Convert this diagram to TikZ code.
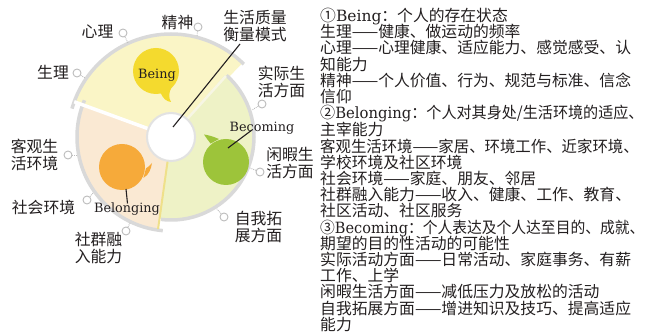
\documentclass[tikz,border=0pt]{standalone}
\usepackage{graphicx}
\usepackage{fontspec}
\newfontfamily\cjk{Noto Sans CJK SC}
\newfontfamily\latserif{DejaVu Serif}
\newcommand\engw[1]{\smash{\latserif\fontsize{15.5}{16.2}\selectfont #1}}
\newcommand\squeeze[2]{\scalebox{#1}[1]{#2}}
\definecolor{beingfill}{HTML}{FAF5C6}
\definecolor{belfill}{HTML}{FAE9D3}
\definecolor{becfill}{HTML}{EEF2C6}
\definecolor{beingbub}{HTML}{F4DA2E}
\definecolor{belbub}{HTML}{F6AA3A}
\definecolor{becbub}{HTML}{9DC43A}
\definecolor{rimgray}{HTML}{D9D9D9}
\definecolor{pingray}{HTML}{BDBDBD}
\definecolor{innergray}{HTML}{E2E2E2}
\definecolor{sepA}{HTML}{F7F6E4}
\definecolor{sepB}{HTML}{EFE08A}
\definecolor{ink}{HTML}{231F20}
\begin{document}
\begin{tikzpicture}[x=1pt,y=1pt,
  lbl/.style={font=\cjk\fontsize{15.8}{17}\selectfont, text=ink, inner sep=0pt, align=center},
  eng/.style={font=\latserif\fontsize{12.8}{14}\selectfont, text=ink, inner sep=0pt, anchor=base},
  pin/.style={circle, draw=pingray, fill=white, line width=0.9pt, minimum size=8pt, inner sep=0pt},
  pinline/.style={draw=pingray, line width=0.9pt, densely dotted},
  ray/.style={draw=ink, line width=1.1pt},
  rim/.style={draw=rimgray, line width=3.5pt},
  bubble/.style={circle, minimum size=46pt, inner sep=0pt},
]
\useasboundingbox[fill=white] (0,0) rectangle (646,-336);
\coordinate (C) at (171,-137);
% sectors
\fill[beingfill] (C) -- ++(46:102) arc[start angle=46,end angle=160,radius=102] -- cycle;
\fill[belfill] (C) -- ++(160:93) arc[start angle=160,end angle=262,radius=93] -- cycle;
\fill[becfill] (C) -- ++(262:82) arc[start angle=262,end angle=409,radius=82] -- cycle;
% rims
\draw[rim] (C) ++(45:103) arc[start angle=45,end angle=164,radius=103];
\draw[rim] (C) ++(157:94) arc[start angle=157,end angle=265,radius=94];
\draw[rim] (C) ++(263:83) arc[start angle=263,end angle=408,radius=83];
% separators
\draw[white, line width=3.5pt] (C) -- ++(160:103);
\draw[sepA, line width=2.5pt] (C) -- ++(48:82);
\draw[sepB, line width=2pt] (C) -- ++(262:93);
% hub
\node[circle, draw=innergray, fill=white, line width=2pt, minimum size=48pt, inner sep=0pt] (hub) at (C) {};
% bubbles
\node[bubble, fill=beingbub] (being) at (156,-71) {};
\fill[beingbub] (160.7,-93) .. controls (163,-99) and (167,-101.5) .. (171,-102) .. controls (168.5,-98) and (168.5,-92) .. (171.9,-86.9) -- cycle;
\node[bubble, fill=belbub] (belonging) at (122,-167) {};
\fill[belbub] (143.4,-177.9) .. controls (149,-175) and (151,-169) .. (152,-163) .. controls (149.5,-166) and (147.5,-167.5) .. (146,-168.3) -- cycle;
\node[bubble, fill=becbub] (becoming) at (226,-162) {};
\fill[becbub] (219,-139) .. controls (213,-136.5) and (208,-135) .. (204,-134.5) .. controls (206.5,-137.5) and (208,-141) .. (210.6,-143.6) -- cycle;
% english labels
\node[eng] (tbeing) at (157,-78.5) {Being};
\node[eng] (tbelonging) at (127,-213) {Belonging};
\node[eng] (tbecoming) at (262,-132) {Becoming};
% pointer lines
\coordinate (hubEnd) at (173,-127);
\coordinate (titleEnd) at (240,-44);
\draw[ray] (hubEnd) -- (titleEnd);
\coordinate (becIn) at (228,-148);
\coordinate (becOut) at (252,-130);
\draw[ray] (becIn) -- (becOut);
\coordinate (belIn) at (126,-189);
\coordinate (belOut) at (127.5,-203.5);
\draw[ray] (belIn) -- (belOut);
% outer labels
\node[lbl] (title) at (255,-26.5) {生活质量\\衡量模式};
\node[lbl] (xinli) at (97.5,-32) {心理};
\node[lbl] (jingshen) at (177.5,-22) {精神};
\node[lbl] (shengli) at (53,-72) {生理};
\node[lbl] (shiji) at (281.5,-81.5) {实际生\\活方面};
\node[lbl] (keguan) at (34.5,-155) {客观生\\活环境};
\node[lbl] (xianxia) at (290,-163.5) {闲暇生\\活方面};
\node[lbl] (shehui) at (43.5,-207) {社会环境};
\node[lbl] (ziwo) at (258.5,-226.5) {自我拓\\展方面};
\node[lbl] (shequn) at (98.5,-248.5) {社群融\\入能力};
% pins
\node[pin] (p1) at (123,-33) {};  \coordinate (e1) at (128,-43);  \draw[pinline] (p1) -- (e1);
\node[pin] (p2) at (198,-27) {};  \coordinate (e2) at (197,-36);  \draw[pinline] (p2) -- (e2);
\node[pin] (p3) at (77,-73) {};   \coordinate (e3) at (85,-78);   \draw[pinline] (p3) -- (e3);
\node[pin] (p4) at (262,-104) {}; \coordinate (e4) at (252,-110); \draw[pinline] (p4) -- (e4);
\node[pin] (p5) at (68,-155) {};  \coordinate (e5) at (78,-155);  \draw[pinline] (p5) -- (e5);
\node[pin] (p6) at (260,-172) {}; \coordinate (e6) at (250,-168); \draw[pinline] (p6) -- (e6);
\node[pin] (p7) at (87,-200) {};  \coordinate (e7) at (93,-193);  \draw[pinline] (p7) -- (e7);
\node[pin] (p8) at (224,-217) {}; \coordinate (e8) at (217,-209); \draw[pinline] (p8) -- (e8);
\node[pin] (p9) at (126,-231) {}; \coordinate (e9) at (130,-223); \draw[pinline] (p9) -- (e9);
% description
\node[anchor=north west, align=left, inner sep=0pt, text=ink,
      font=\cjk\fontsize{15.8}{16.2}\selectfont] (desc) at (320,-8) {%
①\engw{Being}：个人的存在状态\\
生理——健康、做运动的频率\\
心理——心理健康、适应能力、感觉感受、认\\
知能力\\
精神——个人价值、行为、规范与标准、信念\\
信仰\\
\squeeze{0.955}{②\engw{Belonging}：个人对其身处/生活环境的适应、}\\
主宰能力\\
\squeeze{0.975}{客观生活环境——家居、环境工作、近家环境、}\\
学校环境及社区环境\\
社会环境——家庭、朋友、邻居\\
社群融入能力——收入、健康、工作、教育、\\
社区活动、社区服务\\
\squeeze{0.935}{③\engw{Becoming}：个人表达及个人达至目的、成就、}\\
期望的目的性活动的可能性\\
实际活动方面——日常活动、家庭事务、有薪\\
工作、上学\\
闲暇生活方面——减低压力及放松的活动\\
自我拓展方面——增进知识及技巧、提高适应\\
能力};
\end{tikzpicture}
\end{document}
